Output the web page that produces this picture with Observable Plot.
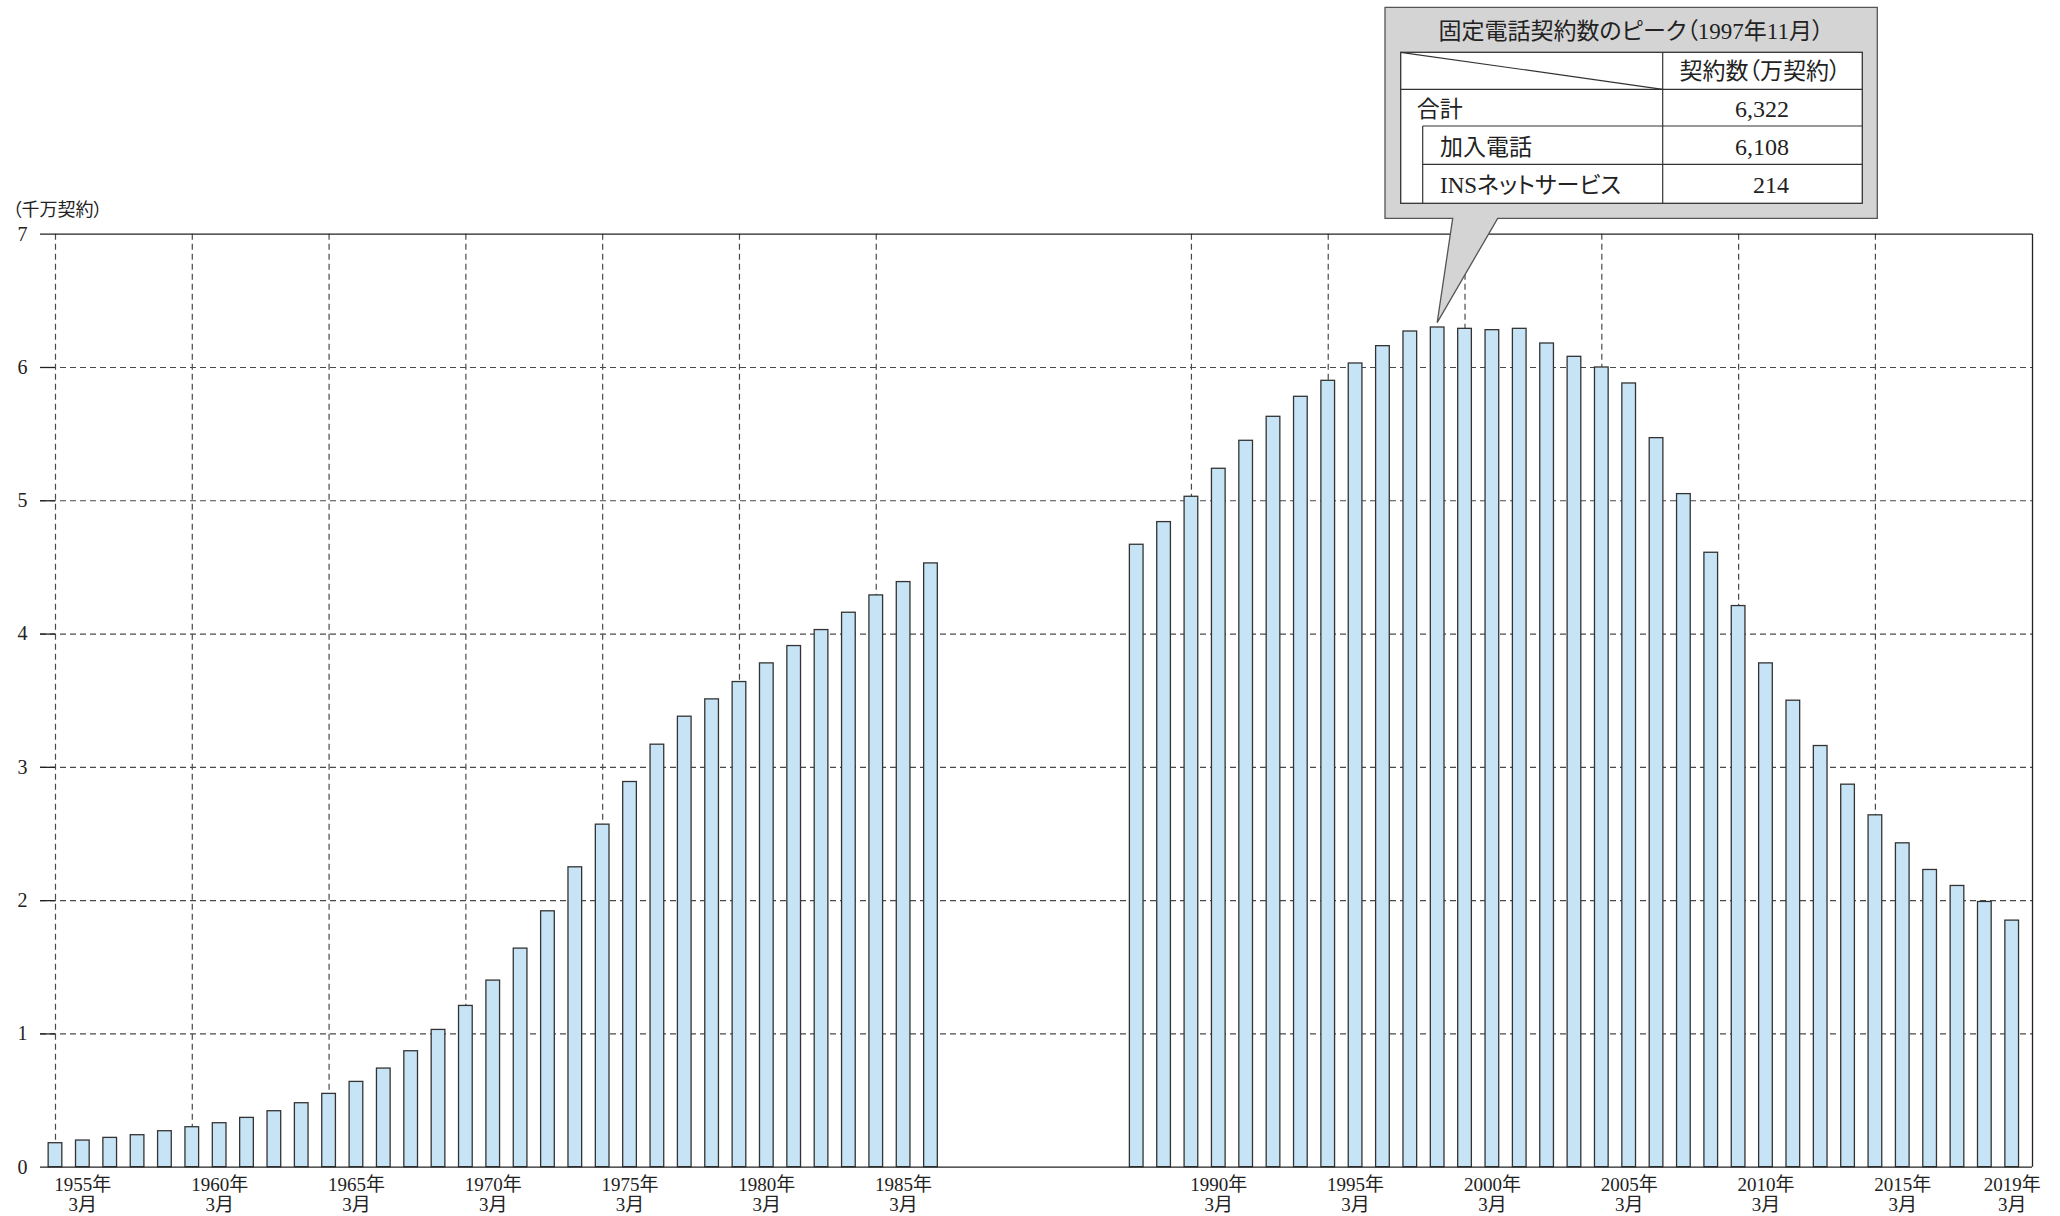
<!DOCTYPE html>
<html><head><meta charset="utf-8">
<script src="https://cdn.jsdelivr.net/npm/d3@7"></script>
<script src="https://cdn.jsdelivr.net/npm/@observablehq/plot@0.6"></script>
<style>
html,body{margin:0;padding:0;background:#fff;}
#chart svg{display:block;}
</style></head><body>
<div id="chart"></div>
<script>
// ---- data ----
const years = [1954,1955,1956,1957,1958,1959,1960,1961,1962,1963,1964,1965,1966,1967,1968,1969,1970,
  1971,1972,1973,1974,1975,1976,1977,1978,1979,1980,1981,1982,1983,1984,1985,1986,
  1987,1988,1989,1990,1991,1992,1993,1994,1995,1996,1997,1998,1999,2000,2001,2002,2003,
  2004,2005,2006,2007,2008,2009,2010,2011,2012,2013,2014,2015,2016,2017,2018,2019];
const contracts = [0.18,0.20,0.22,0.24,0.27,0.30,0.33,0.37,0.42,0.48,0.55,0.64,0.74,0.87,1.03,1.21,1.40,
  1.64,1.92,2.25,2.57,2.89,3.17,3.38,3.51,3.64,3.78,3.91,4.03,4.16,4.29,4.39,4.53,
  4.67,4.84,5.03,5.24,5.45,5.63,5.78,5.90,6.03,6.16,6.27,6.30,6.29,6.28,6.29,6.18,6.08,
  6.00,5.88,5.47,5.05,4.61,4.21,3.78,3.50,3.16,2.87,2.64,2.43,2.23,2.11,1.99,1.85];
const gridYears = [1954,1959,1964,1969,1974,1979,1984,1989,1994,1999,2004,2009,2014];
const labelYears = [1955,1960,1965,1970,1975,1980,1985,1990,1995,2000,2005,2010,2015,2019];
const yTicks = [0,1,2,3,4,5,6,7];
const gridValues = [1,2,3,4,5,6];
const unitLabel = "（千万契約）";
const calloutTitle = "固定電話契約数のピーク（1997年11月）";
const tableHeader = "契約数（万契約）";
const tableRows = ["合計", "加入電話", "INSネットサービス"];
const tableValues = ["6,322", "6,108", "214"];
const peakYear = 1998;

// ---- layout helpers ----
const breakAfter = 1986, breakShift = 6.52;
const pos = y => y + (y > breakAfter ? breakShift : 0);
const data = years.map((year, i) => ({year, value: contracts[i]}));
const xDomain = [pos(years[0]) - 0.548, pos(years[years.length - 1]) + 0.742];
const halfBar = 0.25;
const ink = "#222";
const gridColor = "#4a4a4a";

const plot = Plot.plot({
  width: 2060,
  height: 1216,
  marginLeft: 40,
  marginRight: 28,
  marginTop: 233.7,
  marginBottom: 49.3,
  style: {fontFamily: "'Liberation Serif', 'Noto Sans CJK JP', serif", fontSize: "19px", color: ink, background: "#fff", fontFeatureSettings: "'palt'"},
  x: {type: "linear", domain: xDomain, axis: null},
  y: {domain: [0, 7], label: null, axis: null},
  marks: [
    Plot.ruleX(gridYears, {x: pos, stroke: gridColor, strokeWidth: 1.2, strokeDasharray: "6,4"}),
    Plot.ruleY(gridValues, {stroke: gridColor, strokeWidth: 1.2, strokeDasharray: "6,4"}),
    Plot.ruleY(gridValues, {x1: xDomain[0], x2: pos(gridYears[0]), stroke: ink, strokeWidth: 1.3}),
    Plot.rectY(data, {x1: d => pos(d.year) - halfBar, x2: d => pos(d.year) + halfBar, y: "value",
      fill: "#c6e4f6", stroke: "#333", strokeWidth: 1.3}),
    Plot.ruleY([0, 7], {stroke: ink, strokeWidth: 1.3}),
    Plot.ruleX([xDomain[1]], {y1: 0, y2: 7, stroke: ink, strokeWidth: 1.3}),
    Plot.axisY(yTicks, {tickSize: 0, tickPadding: 13, fontSize: 20, fill: ink, label: null, tickFormat: d => String(d)}),
    Plot.text(labelYears, {x: pos, frameAnchor: "bottom", text: d => `${d}年\n3月`, lineAnchor: "top",
      dy: 8.5, fontSize: 19, lineHeight: 1.1, fill: ink}),
    Plot.text([unitLabel], {frameAnchor: "top-left", textAnchor: "start", dx: -28, dy: -31, fontSize: 18, fill: ink})
  ]
});
document.getElementById("chart").appendChild(plot);

// ---- callout ----
const sx = plot.scale("x"), sy = plot.scale("y");
const peakVal = contracts[years.indexOf(peakYear)];
const tipX = sx.apply(pos(peakYear)), tipY = sy.apply(peakVal) - 4.4;
const svg = d3.select(plot);
const g = svg.append("g").attr("class", "callout");
const bx0 = 1385, by0 = 7.3, bx1 = 1877.3, by1 = 218.3;
g.append("path")
  .attr("d", `M${bx0},${by0}H${bx1}V${by1}H1497.7L${tipX},${tipY}L1452.7,${by1}H${bx0}Z`)
  .attr("fill", "#d4d4d4").attr("stroke", "#555").attr("stroke-width", 1.3);
g.append("text").attr("x", 1631).attr("y", 31.7).attr("text-anchor", "middle")
  .attr("dominant-baseline", "central").attr("font-size", 23).attr("fill", ink).text(calloutTitle);
const tx0 = 1400.7, ty0 = 52.3, tx1 = 1862.3, ty1 = 203.3, colX = 1662.7, indentX = 1422.7;
const rowY = [89.3, 126, 164.3];
g.append("rect").attr("x", tx0).attr("y", ty0).attr("width", tx1 - tx0).attr("height", ty1 - ty0)
  .attr("fill", "#fff").attr("stroke", "#333").attr("stroke-width", 1.3);
const line = (x1, y1, x2, y2) => g.append("line").attr("x1", x1).attr("y1", y1).attr("x2", x2).attr("y2", y2)
  .attr("stroke", "#333").attr("stroke-width", 1.2);
line(colX, ty0, colX, ty1);
line(tx0, rowY[0], tx1, rowY[0]);
line(indentX, rowY[1], tx1, rowY[1]);
line(indentX, rowY[2], tx1, rowY[2]);
line(indentX, rowY[1], indentX, ty1);
line(tx0, ty0, colX, rowY[0]);
g.append("text").attr("x", 1760).attr("y", 71).attr("text-anchor", "middle")
  .attr("dominant-baseline", "central").attr("font-size", 23).attr("fill", ink).text(tableHeader);
const rowCenters = [109, 147, 185];
const rowStarts = [1416.7, 1440, 1440];
tableRows.forEach((r, i) => {
  g.append("text").attr("x", rowStarts[i]).attr("y", rowCenters[i]).attr("text-anchor", "start")
    .attr("dominant-baseline", "central").attr("font-size", 23).attr("fill", ink).text(r);
  g.append("text").attr("x", 1789).attr("y", rowCenters[i]).attr("text-anchor", "end")
    .attr("dominant-baseline", "central").attr("font-size", 24).attr("fill", ink).text(tableValues[i]);
});
</script>
</body></html>
